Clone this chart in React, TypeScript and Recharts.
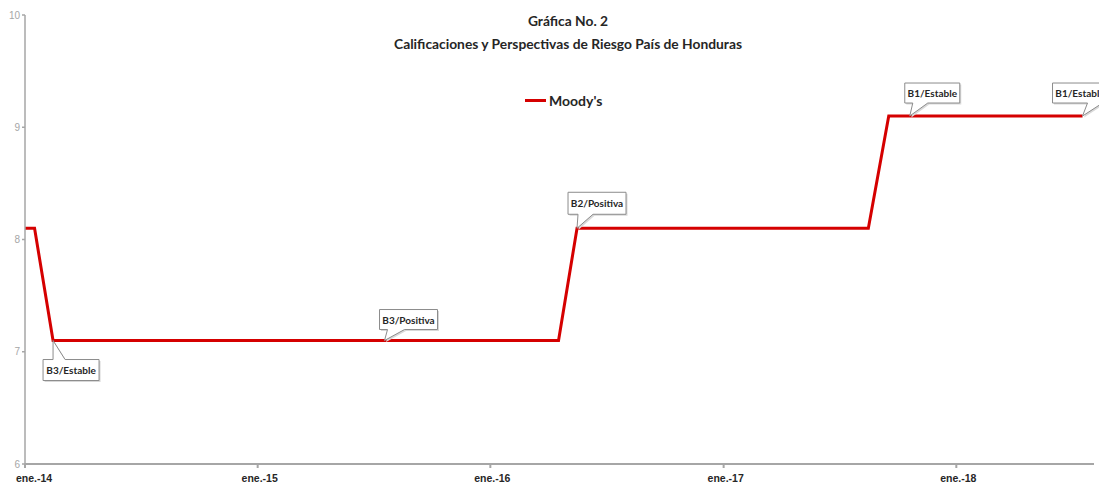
import { LineChart, Line, XAxis, YAxis, ReferenceDot } from 'recharts';

// Moody's rating series (numeric scale: B3 = 7, B2 = 8, B1 = 9, +0.1 offset as plotted)
const dates = [
  '2014-01-01',
  '2014-01-16',
  '2014-02-14',
  '2016-04-17',
  '2016-05-16',
  '2017-08-16',
  '2017-09-17',
  '2018-07-18',
];
const moodys = [8.1, 8.1, 7.1, 7.1, 8.1, 8.1, 9.1, 9.1];

// callouts
const noteDates = ['2014-02-14', '2015-07-19', '2016-05-16', '2017-10-20', '2018-07-18'];
const noteValues = [7.1, 7.1, 8.1, 9.1, 9.1];
const noteLabels = ['B3/Estable', 'B3/Positiva', 'B2/Positiva', 'B1/Estable', 'B1/Estable'];

// x axis
const tickDates = ['2014-01-01', '2015-01-01', '2016-01-01', '2017-01-01', '2018-01-01'];
const tickLabels = ['ene.-14', 'ene.-15', 'ene.-16', 'ene.-17', 'ene.-18'];
const yTicks = [6, 7, 8, 9, 10];

const ts = (s: string) => Date.parse(s + 'T00:00:00Z');

const data = dates.map((d, i) => ({ t: ts(d), value: moodys[i] }));
const xTicks = tickDates.map(ts);
const xDomain = [ts('2014-01-01'), ts('2018-08-05')];

// box geometry relative to the anchor point
const calloutBoxes = [
  { bx: -10, by: 19, w: 56, h: 21, w1: 0, w2: 12 },
  { bx: -5, by: -31, w: 58, h: 20, w1: 3, w2: 20 },
  { bx: -9, by: -36, w: 58, h: 22, w1: 1, w2: 16 },
  { bx: -5, by: -33, w: 55, h: 20, w1: 3, w2: 18 },
  { bx: -30, by: -33, w: 55, h: 20, w1: 5, w2: 20 },
];

const RED = '#d50000';
const GREY = '#a6a6a6';
const NARROW = '"Liberation Sans Narrow", "Liberation Sans", Arial, sans-serif';
const TITLE_FONT = 'Lato, "Liberation Sans", Arial, sans-serif';

function calloutPath(cx: number, cy: number, b: (typeof calloutBoxes)[number]) {
  const x0 = cx + b.bx;
  const y0 = cy + b.by;
  const x1 = x0 + b.w;
  const y1 = y0 + b.h;
  if (b.by > 0) {
    // box below the point, wedge on top edge
    return `M${x0},${y0} H${cx + b.w1} L${cx},${cy} L${cx + b.w2},${y0} H${x1} V${y1} H${x0} Z`;
  }
  return `M${x0},${y0} H${x1} V${y1} H${cx + b.w2} L${cx},${cy} L${cx + b.w1},${y1} H${x0} Z`;
}

function Callout(props: any) {
  const { cx, cy, idx } = props;
  if (cx == null || cy == null) return null;
  const b = calloutBoxes[idx];
  const d = calloutPath(cx, cy, b);
  return (
    <g>
      <path d={d} transform="translate(1.5,1.5)" fill="#d9d9d9" stroke="none" />
      <path d={d} fill="#fff" stroke="#8c8c8c" strokeWidth={1} />
      <text
        x={cx + b.bx + b.w / 2}
        y={cy + b.by + b.h / 2}
        textAnchor="middle"
        dominantBaseline="central"
        fontFamily={TITLE_FONT}
        fontWeight={700}
        fontSize={10}
        fill="#262626"
      >
        {noteLabels[idx]}
      </text>
    </g>
  );
}

function XTick(props: any) {
  const { x, y, payload, index } = props;
  const label = tickLabels[xTicks.indexOf(payload.value)] ?? '';
  // the first label sits just right of the axis origin, as in the original
  const shift = index === 0 ? 9 : 2;
  return (
    <text
      x={x + shift}
      y={y + 12}
      textAnchor="middle"
      fontFamily={NARROW}
      fontWeight={700}
      fontSize={10.5}
      fill="#262626"
    >
      {label}
    </text>
  );
}

export default function App() {
  return (
    <div
      style={{
        position: 'absolute',
        left: 0,
        top: 0,
        width: 1099,
        height: 489,
        background: '#fff',
      }}
    >
      <div
        style={{
          position: 'absolute',
          left: 0,
          top: 9,
          width: 1136,
          textAlign: 'center',
          fontFamily: TITLE_FONT,
          fontWeight: 700,
          fontSize: 13.8,
          lineHeight: '23px',
          color: '#262626',
          zIndex: 1,
        }}
      >
        <div>Gráfica No. 2</div>
        <div>Calificaciones y Perspectivas de Riesgo País de Honduras</div>
      </div>
      <div
        style={{
          position: 'absolute',
          left: 525,
          top: 92,
          display: 'flex',
          alignItems: 'center',
          fontFamily: TITLE_FONT,
          fontWeight: 700,
          fontSize: 14,
          color: '#262626',
          zIndex: 1,
        }}
      >
        <span style={{ width: 21, height: 3, background: RED, marginRight: 3 }} />
        Moody's
      </div>
      <LineChart
        width={1099}
        height={489}
        data={data}
        margin={{ top: 15, right: 5, bottom: 0, left: 0 }}
      >
        <XAxis
          dataKey="t"
          type="number"
          scale="time"
          domain={xDomain}
          ticks={xTicks}
          interval={0}
          height={25}
          tickSize={4}
          stroke={GREY}
          strokeWidth={2}
          tick={<XTick />}
          allowDataOverflow
        />
        <YAxis
          domain={[6, 10]}
          ticks={yTicks}
          width={25}
          tickSize={3}
          stroke={GREY}
          strokeWidth={1.5}
          tick={{ fontFamily: '"Liberation Sans", Arial, sans-serif', fontSize: 10, fill: GREY }}
        />
        <Line
          type="linear"
          dataKey="value"
          stroke={RED}
          strokeWidth={3}
          dot={false}
          isAnimationActive={false}
        />
        {noteDates.map((d, i) => (
          <ReferenceDot
            key={i}
            x={ts(d)}
            y={noteValues[i]}
            r={0}
            ifOverflow="visible"
            shape={(p: any) => <Callout {...p} idx={i} />}
          />
        ))}
      </LineChart>
    </div>
  );
}
